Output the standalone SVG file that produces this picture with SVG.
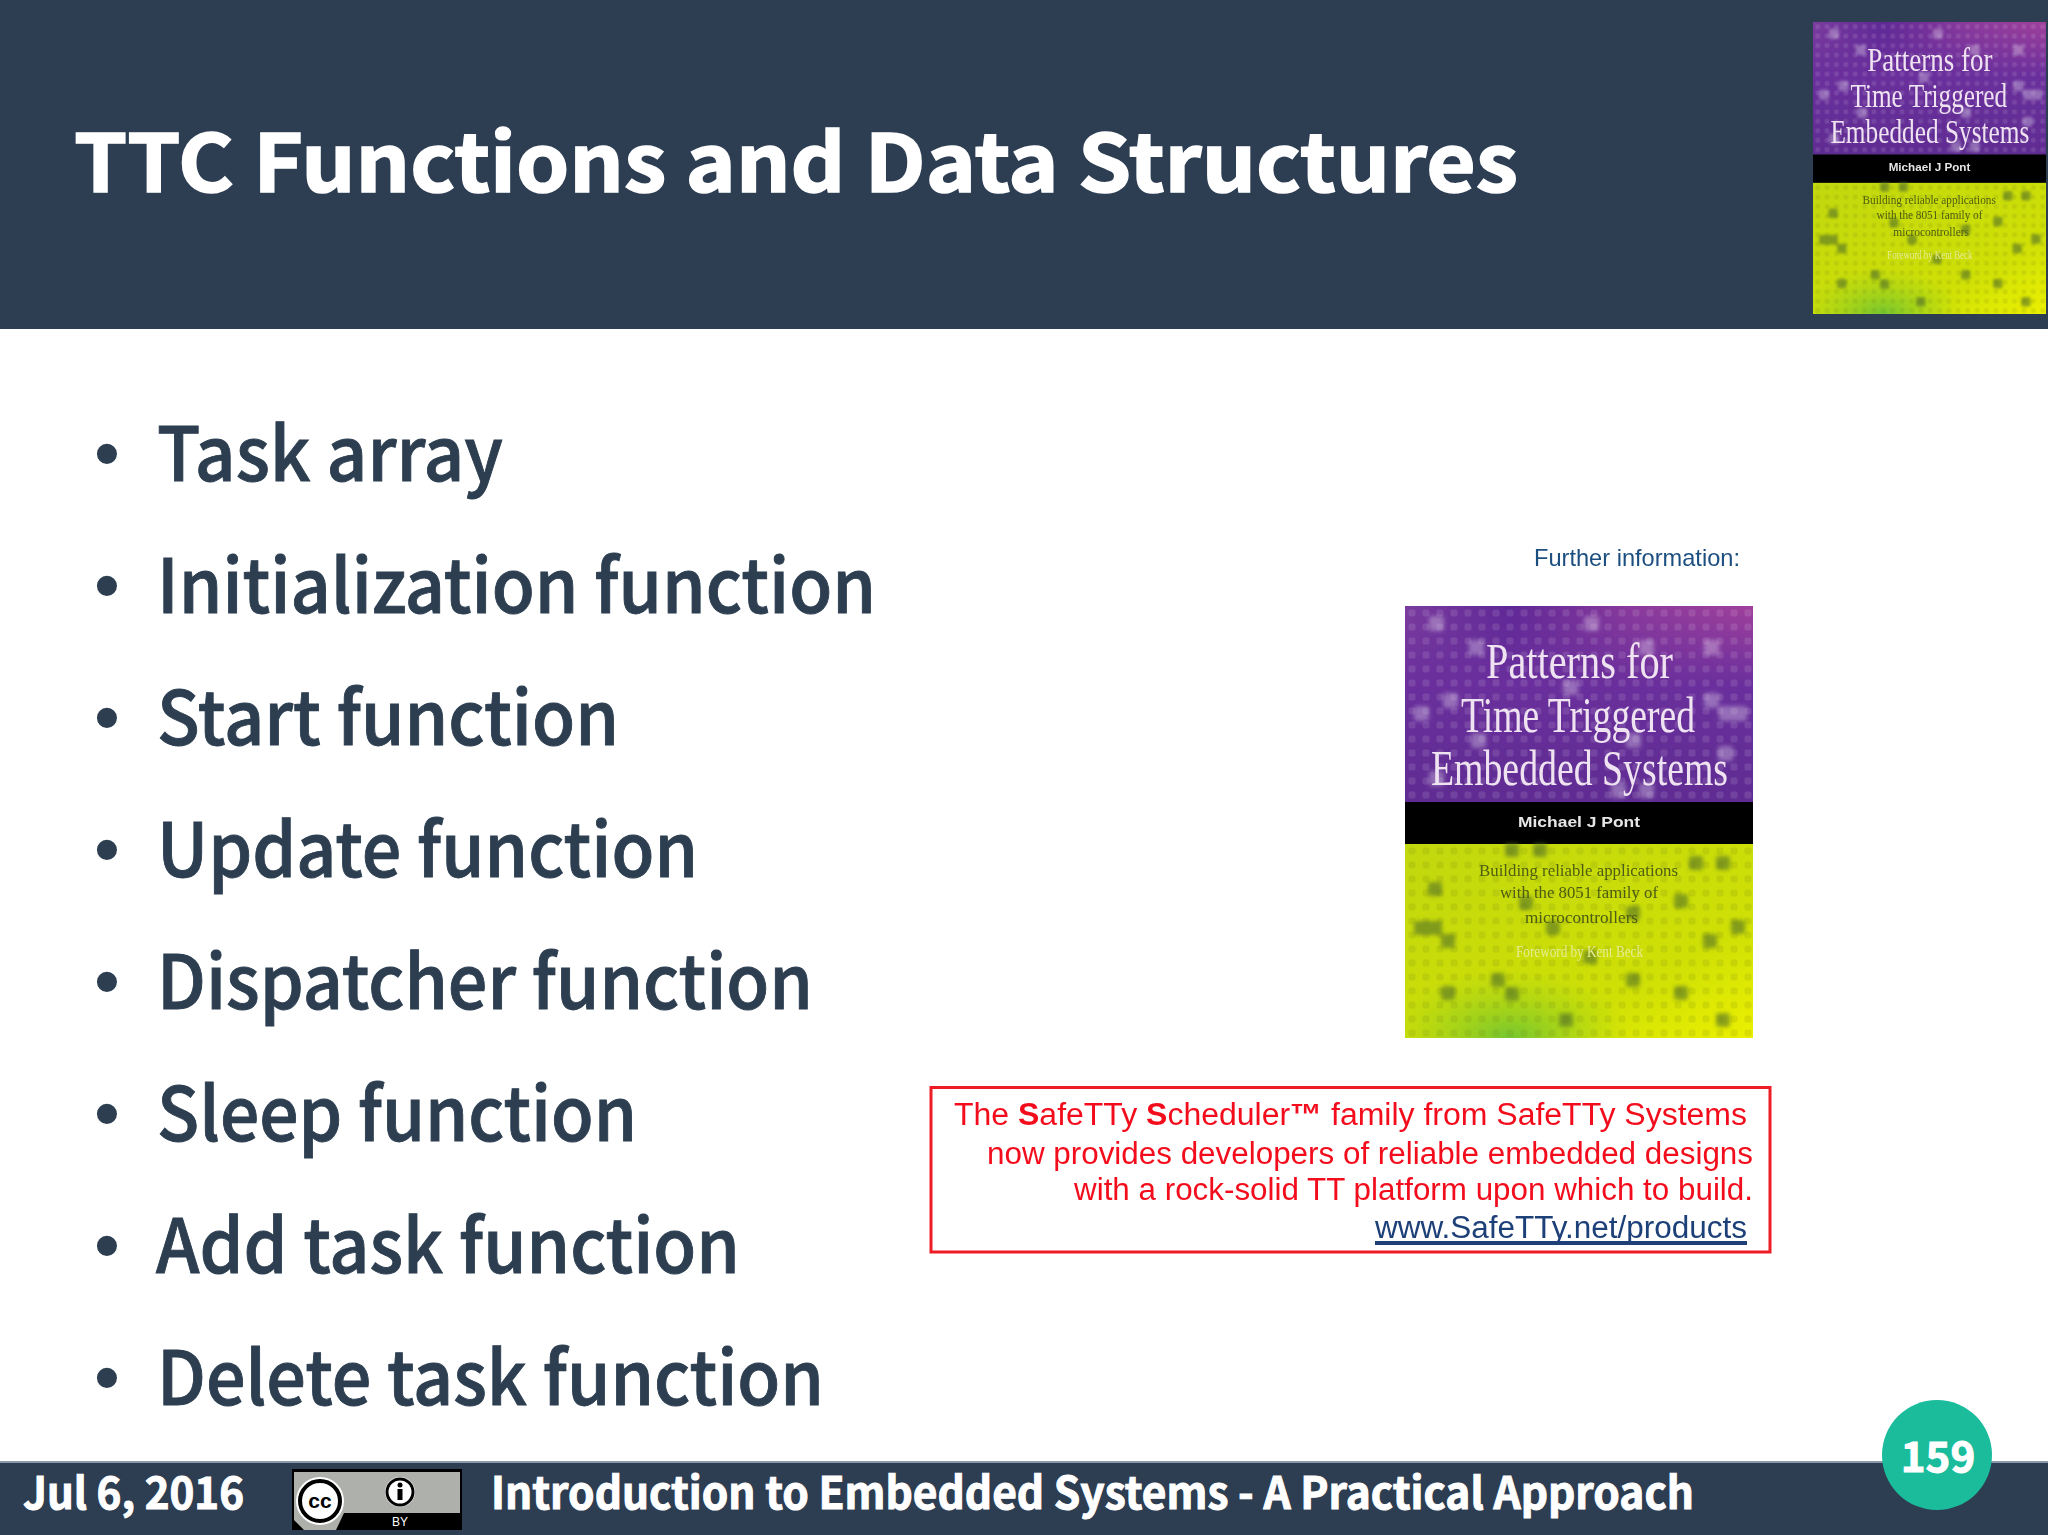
<svg xmlns="http://www.w3.org/2000/svg" xmlns:xlink="http://www.w3.org/1999/xlink" width="2048" height="1535" viewBox="0 0 2048 1535">
<style>
.s{font-family:"Noto Sans CJK SC","Noto Sans CJK JP","Noto Sans",sans-serif}
.t{font-size:80px;font-weight:700;fill:#fff;stroke:#fff;stroke-width:1.6px}
.b{font-size:74px;font-weight:500;fill:#2c3e50;stroke:#2c3e50;stroke-width:.9px}
.d{font-family:"Liberation Sans",Arial,sans-serif;font-size:74px;fill:#2c3e50}
.f{font-size:44px;font-weight:700;fill:#fff;stroke:#fff;stroke-width:1px}
.a{font-family:"Liberation Sans",Arial,sans-serif}
.r{font-size:31px;fill:#f3101e}
.ser{font-family:"Liberation Serif","Times New Roman",serif}
.ct{font-size:50px;fill:#efe3f2}
.cs{font-size:17px;fill:#4d5c12}
.pb{fill:#fff;fill-opacity:.3}
.lb{fill:#4e6a24;fill-opacity:.58}
</style>
<defs>
<filter id="soft" x="-5%" y="-20%" width="110%" height="140%"><feGaussianBlur stdDeviation="0.7"/></filter>
<filter id="b2" x="-10%" y="-10%" width="120%" height="120%"><feGaussianBlur stdDeviation="2"/></filter>
<linearGradient id="pg" x1="0" y1="0" x2="1" y2="0"><stop offset="0" stop-color="#7b3c9e"/><stop offset=".3" stop-color="#5f2896"/><stop offset=".65" stop-color="#8a3a9c"/><stop offset="1" stop-color="#a0409c"/></linearGradient>
<linearGradient id="pv" x1="0" y1="0" x2="0" y2="1"><stop offset="0" stop-color="#6a2f9c" stop-opacity="0"/><stop offset=".4" stop-color="#6a2f9c"/><stop offset="1" stop-color="#5f2c92"/></linearGradient>
<linearGradient id="lg" x1="0" y1="0" x2="1" y2="1"><stop offset="0" stop-color="#c2d80e"/><stop offset=".7" stop-color="#cfe006"/><stop offset="1" stop-color="#ecf000"/></linearGradient>
<radialGradient id="gg" cx=".3" cy="1" r=".35"><stop offset="0" stop-color="#5fc03a" stop-opacity=".8"/><stop offset="1" stop-color="#8fcc20" stop-opacity="0"/></radialGradient>
<pattern id="pd" width="14" height="14" patternUnits="userSpaceOnUse"><rect x="3.500" y="3.500" width="7" height="7" rx="2" fill="#fff" fill-opacity=".11"/></pattern>
<pattern id="ld" width="14" height="14" patternUnits="userSpaceOnUse"><rect x="3.500" y="3.500" width="7" height="7" rx="2" fill="#5a6a10" fill-opacity=".13"/></pattern>
<symbol id="book" viewBox="0 0 348 432" preserveAspectRatio="none">
<rect width="348" height="197" fill="url(#pg)"/>
<rect width="348" height="197" fill="url(#pv)"/>
<rect width="348" height="197" fill="url(#pd)"/>
<g class="pb" filter="url(#b2)">
<rect x="24" y="10" width="15" height="15" rx="3"/><rect x="179" y="10" width="15" height="15" rx="3"/><rect x="64" y="34" width="15" height="15" rx="3"/><rect x="234" y="34" width="15" height="15" rx="3"/><rect x="299" y="34" width="15" height="15" rx="3"/><rect x="158" y="74" width="15" height="15" rx="3"/><rect x="38" y="87" width="15" height="15" rx="3"/><rect x="9" y="100" width="15" height="15" rx="3"/><rect x="299" y="87" width="15" height="15" rx="3"/><rect x="314" y="100" width="28" height="15" rx="3"/><rect x="66" y="127" width="15" height="15" rx="3"/><rect x="221" y="127" width="15" height="15" rx="3"/><rect x="313" y="140" width="15" height="15" rx="3"/><rect x="24" y="165" width="15" height="15" rx="3"/><rect x="206" y="177" width="15" height="15" rx="3"/><rect x="234" y="177" width="15" height="15" rx="3"/>
</g>
<g class="ser ct" filter="url(#soft)">
<text x="81" y="72" textLength="187" lengthAdjust="spacingAndGlyphs">Patterns for</text>
<text x="56" y="126" textLength="234" lengthAdjust="spacingAndGlyphs">Time Triggered</text>
<text x="26" y="179" textLength="297" lengthAdjust="spacingAndGlyphs">Embedded Systems</text>
</g>
<rect y="196" width="348" height="42" fill="#000"/>
<text class="a" x="113" y="221" font-size="15" font-weight="700" fill="#e6e6e6" textLength="122" lengthAdjust="spacingAndGlyphs" filter="url(#soft)">Michael J Pont</text>
<rect y="238" width="348" height="194" fill="url(#lg)"/>
<rect y="238" width="348" height="194" fill="url(#gg)"/>
<rect y="238" width="348" height="194" fill="url(#ld)"/>
<g class="lb" filter="url(#b2)">
<rect x="100" y="237" width="14" height="14" rx="3"/><rect x="128" y="237" width="14" height="14" rx="3"/><rect x="284" y="250" width="14" height="14" rx="3"/><rect x="311" y="250" width="14" height="14" rx="3"/><rect x="23" y="276" width="14" height="14" rx="3"/><rect x="269" y="288" width="14" height="14" rx="3"/><rect x="114" y="290" width="14" height="14" rx="3"/><rect x="221" y="300" width="14" height="14" rx="3"/><rect x="9" y="315" width="28" height="14" rx="3"/><rect x="36" y="328" width="14" height="14" rx="3"/><rect x="141" y="315" width="14" height="14" rx="3"/><rect x="298" y="328" width="14" height="14" rx="3"/><rect x="326" y="314" width="14" height="14" rx="3"/><rect x="178" y="344" width="14" height="14" rx="3"/><rect x="86" y="367" width="14" height="14" rx="3"/><rect x="100" y="381" width="14" height="14" rx="3"/><rect x="36" y="380" width="14" height="14" rx="3"/><rect x="221" y="367" width="14" height="14" rx="3"/><rect x="269" y="380" width="14" height="14" rx="3"/><rect x="154" y="407" width="14" height="14" rx="3"/><rect x="311" y="407" width="14" height="14" rx="3"/>
</g>
<g class="ser cs" filter="url(#soft)">
<text x="74" y="270" textLength="199" lengthAdjust="spacingAndGlyphs">Building reliable applications</text>
<text x="95" y="292" textLength="158" lengthAdjust="spacingAndGlyphs">with the 8051 family of</text>
<text x="120" y="317" textLength="113" lengthAdjust="spacingAndGlyphs">microcontrollers</text>
<text x="111" y="351" textLength="127" lengthAdjust="spacingAndGlyphs" style="fill:#e6ec90">Foreword by Kent Beck</text>
</g>
</symbol>
</defs>
<rect width="2048" height="1535" fill="#fff"/>
<g id="header">
<rect width="2048" height="329" fill="#2d3d52"/>
<text class="s t" x="74" y="192" textLength="1444" lengthAdjust="spacingAndGlyphs">TTC Functions and Data Structures</text>
<use href="#book" xlink:href="#book" x="1813" y="22" width="233" height="292"/>
</g>
<g id="bullets">
<g class="d"><text x="94" y="479">•</text><text x="94" y="611">•</text><text x="94" y="743">•</text><text x="94" y="875">•</text><text x="94" y="1007">•</text><text x="94" y="1139">•</text><text x="94" y="1271">•</text><text x="94" y="1403">•</text></g>
<g class="s b">
<text x="157" y="481" textLength="346" lengthAdjust="spacingAndGlyphs">Task array</text>
<text x="157" y="613" textLength="719" lengthAdjust="spacingAndGlyphs">Initialization function</text>
<text x="157" y="745" textLength="462" lengthAdjust="spacingAndGlyphs">Start function</text>
<text x="157" y="877" textLength="541" lengthAdjust="spacingAndGlyphs">Update function</text>
<text x="157" y="1009" textLength="656" lengthAdjust="spacingAndGlyphs">Dispatcher function</text>
<text x="157" y="1141" textLength="480" lengthAdjust="spacingAndGlyphs">Sleep function</text>
<text x="156" y="1273" textLength="584" lengthAdjust="spacingAndGlyphs">Add task function</text>
<text x="157" y="1405" textLength="667" lengthAdjust="spacingAndGlyphs">Delete task function</text>
</g>
</g>
<g id="further">
<text class="a" x="1534" y="566" font-size="24" fill="#1c4f80" textLength="206" lengthAdjust="spacingAndGlyphs" filter="url(#soft)">Further information:</text>
<use href="#book" xlink:href="#book" x="1405" y="606" width="348" height="432"/>
</g>
<g id="safetty">
<rect x="931" y="1087.500" width="839" height="164.500" fill="#fff" stroke="#ee1c25" stroke-width="3"/>
<g class="a r" filter="url(#soft)">
<text x="954" y="1125" textLength="793" lengthAdjust="spacingAndGlyphs">The <tspan font-weight="700">S</tspan>afeTTy <tspan font-weight="700">S</tspan>cheduler<tspan font-weight="700">™</tspan> family from SafeTTy Systems</text>
<text x="987" y="1164" textLength="766" lengthAdjust="spacingAndGlyphs">now provides developers of reliable embedded designs</text>
<text x="1074" y="1200" textLength="679" lengthAdjust="spacingAndGlyphs">with a rock-solid TT platform upon which to build.</text>
<text x="1375" y="1238" textLength="372" lengthAdjust="spacingAndGlyphs" style="fill:#1f3f78">www.SafeTTy.net/products</text>
</g>
<rect x="1375" y="1241" width="372" height="4" fill="#1f3f78"/>
</g>
<g id="footer">
<rect y="1462" width="2048" height="73" fill="#2d3d52"/>
<rect y="1461" width="2048" height="2" fill="#8b9aa8"/>
<text class="s f" x="23" y="1509" textLength="221" lengthAdjust="spacingAndGlyphs">Jul 6, 2016</text>
<text class="s f" x="491" y="1509" textLength="1203" lengthAdjust="spacingAndGlyphs">Introduction to Embedded Systems - A Practical Approach</text>
</g>
<g id="cc-badge">
<rect x="292" y="1469" width="170" height="61" fill="#000"/>
<rect x="294" y="1472" width="166" height="41" fill="#aeb0ac"/>
<path d="M294 1513H344L336 1530H304L294 1520Z" fill="#aeb0ac"/>
<circle cx="320" cy="1501" r="24" fill="#fff"/>
<circle cx="320" cy="1501" r="20" fill="#fff" stroke="#000" stroke-width="4"/>
<text class="a" x="320" y="1508" font-size="21" font-weight="700" text-anchor="middle" fill="#000">cc</text>
<circle cx="400" cy="1492" r="15" fill="#fff"/>
<circle cx="400" cy="1492" r="13" fill="#fff" stroke="#000" stroke-width="3"/>
<circle cx="400" cy="1485" r="2.500"/>
<rect x="397.500" y="1489" width="5" height="11"/>
<text class="a" x="400" y="1526" font-size="12" text-anchor="middle" fill="#fff">BY</text>
</g>
<g id="page-number">
<circle cx="1937" cy="1455" r="55" fill="#1abc9c"/>
<text class="s f" x="1938" y="1472" font-size="42" text-anchor="middle" style="font-size:42px">159</text>
</g>
</svg>
